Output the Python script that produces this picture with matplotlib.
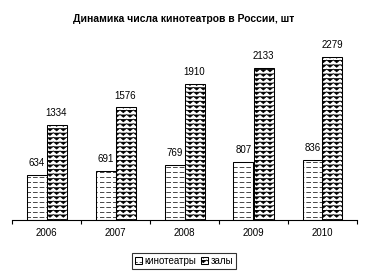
import warnings
import numpy as np
import matplotlib
matplotlib.use("Agg")
import matplotlib.pyplot as plt
import matplotlib.hatch as mhatch
from matplotlib.path import Path

warnings.filterwarnings("ignore")

years = ["2006", "2007", "2008", "2009", "2010"]
cinemas = [634, 691, 769, 807, 836]
halls = [1334, 1576, 1910, 2133, 2279]
series_names = ["кинотеатры", "залы"]
title = "Динамика числа кинотеатров в России, шт"


class DashedHatch(mhatch.HatchPatternBase):
    rows, dashes, frac = 20, 15, 0.6

    def __init__(self, hatch, density):
        n = hatch.count('d')
        self.num_vertices = (self.rows * self.dashes * 2) if n else 0

    def set_vertices_and_codes(self, vertices, codes):
        k = 0
        for r in range(self.rows):
            y = (r + 0.5) / self.rows
            for d in range(self.dashes):
                x0 = d / self.dashes
                vertices[k] = (x0, y)
                vertices[k + 1] = (x0 + self.frac / self.dashes, y)
                codes[k] = Path.MOVETO
                codes[k + 1] = Path.LINETO
                k += 2


class ZigzagHatch(mhatch.HatchPatternBase):
    rows, teeth = 22, 15

    def __init__(self, hatch, density):
        n = hatch.count('z')
        self.num_vertices = (self.rows * (2 * self.teeth + 1)) if n else 0

    def set_vertices_and_codes(self, vertices, codes):
        k = 0
        amp = 0.3 / self.rows
        npts = 2 * self.teeth + 1
        for r in range(self.rows):
            y = (r + 0.5) / self.rows
            for i in range(npts):
                x = i / (2 * self.teeth)
                yy = y + (amp if i % 2 == 0 else -amp)
                vertices[k] = (x, yy)
                codes[k] = Path.MOVETO if i == 0 else Path.LINETO
                k += 1


mhatch._hatch_types.append(DashedHatch)
mhatch._hatch_types.append(ZigzagHatch)

plt.rcParams['font.family'] = ['Liberation Sans', 'DejaVu Sans']
plt.rcParams['hatch.linewidth'] = 0.5
plt.rcParams['hatch.color'] = 'black'

fig = plt.figure(figsize=(3.70, 2.76), dpi=100)
ax = fig.add_axes([12 / 370, 1 - 220 / 276, 345 / 370, 178.5 / 276])

x = np.arange(len(years))
w = 20 / 69
b1 = ax.bar(x - w / 2, cinemas, w, color='white', edgecolor='black',
            linewidth=0.75, hatch='d', label=series_names[0])
b2 = ax.bar(x + w / 2, halls, w, color='white', edgecolor='black',
            linewidth=0.75, hatch='z', label=series_names[1])

for bars, vals in ((b1, cinemas), (b2, halls)):
    for r, v in zip(bars, vals):
        ax.annotate(str(v), (r.get_x() + r.get_width() / 2, v),
                    xytext=(0, 5), textcoords='offset points',
                    ha='center', va='bottom', fontsize=7)

ax.set_xlim(-0.5, len(years) - 0.5)
ax.set_ylim(0, 2500)
for s in ('top', 'right', 'left'):
    ax.spines[s].set_visible(False)
ax.spines['bottom'].set_linewidth(0.8)
ax.set_yticks([])
ax.set_xticks(np.arange(len(years) + 1) - 0.5, minor=False)
ax.set_xticklabels([])
ax.tick_params(axis='x', which='major', length=3, width=0.8, direction='out')
ax.set_xticks(x, minor=True)
ax.set_xticklabels(years, minor=True, fontsize=7)
ax.tick_params(axis='x', which='minor', length=0, pad=6)

fig.text(184 / 370, 1 - 19 / 276, title, ha='center', va='center',
         fontsize=7.5, fontweight='bold')

leg = fig.legend(handles=[b1, b2], loc='center', bbox_to_anchor=(184 / 370, 1 - 261 / 276),
                 ncol=2, fontsize=7, frameon=True, fancybox=False,
                 handlelength=0.7, handleheight=0.6, handletextpad=0.25,
                 columnspacing=0.5, borderpad=0.3, borderaxespad=0)
leg.get_frame().set_edgecolor('black')
leg.get_frame().set_linewidth(0.8)

fig.savefig('out.png', dpi=100)
